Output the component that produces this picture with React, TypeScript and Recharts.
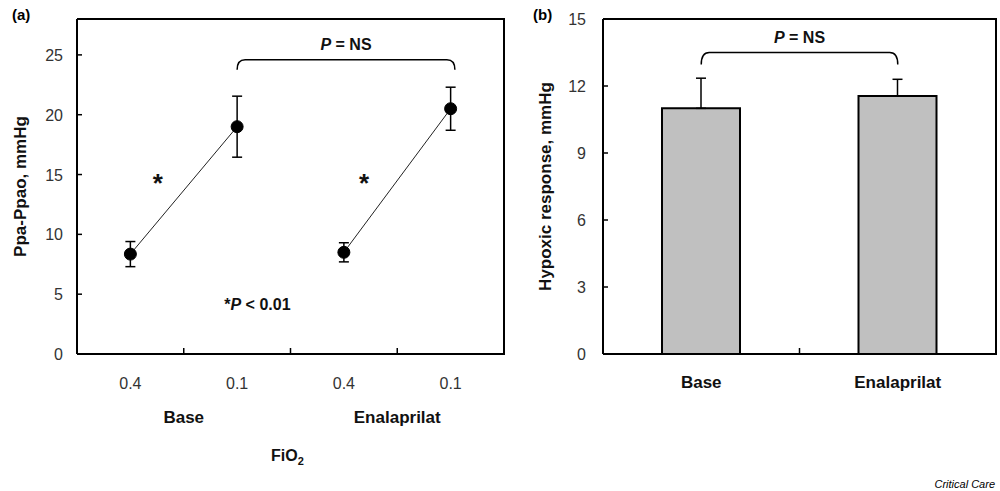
import { LineChart, Line, BarChart, Bar, XAxis, YAxis, ErrorBar, ReferenceLine, ReferenceDot } from 'recharts'

const FONT = '"Liberation Sans", Arial, sans-serif'

// panel (a): Ppa-Ppao by FiO2
const fio2Labels = ['0.4', '0.1', '0.4', '0.1']
const groupLabels = ['Base', 'Enalaprilat']
const baseMean = [8.35, 19.0, null, null]
const baseSd = [1.05, 2.55, null, null]
const enalMean = [null, null, 8.5, 20.5]
const enalSd = [null, null, 0.8, 1.8]
const ppaTicks = [0, 5, 10, 15, 20, 25]

// panel (b): hypoxic response
const hypoxicMean = [11.0, 11.55]
const hypoxicSd = [1.35, 0.75]
const hypoxicTicks = [0, 3, 6, 9, 12, 15]

const lineData = fio2Labels.map((_, i) => ({
  pos: i + 1,
  base: baseMean[i],
  baseErr: baseSd[i],
  enal: enalMean[i],
  enalErr: enalSd[i],
}))

const barData = groupLabels.map((g, i) => ({
  pos: i + 1,
  name: g,
  value: hypoxicMean[i],
  err: [0, hypoxicSd[i]],
}))

function YTick({ x, y, payload, gap }: any) {
  return (
    <g>
      <line x1={x} x2={x + 5} y1={y} y2={y} stroke="#000" strokeWidth={1.5} />
      <text x={x - gap} y={y + 6} textAnchor="end" fontSize={16} fill="#333" fontFamily={FONT}>
        {payload.value}
      </text>
    </g>
  )
}

function FioTick({ x, y, payload }: any) {
  const v = payload.value
  if (Number.isInteger(v)) {
    return (
      <text x={x} y={y + 35} textAnchor="middle" fontSize={16} fill="#333" fontFamily={FONT}>
        {fio2Labels[v - 1]}
      </text>
    )
  }
  const g = v === 2.5 ? null : groupLabels[(v - 1.5) / 2]
  return (
    <g>
      <line x1={x} x2={x} y1={y} y2={y - 6} stroke="#000" strokeWidth={1.5} />
      {g && (
        <text x={x} y={y + 69} textAnchor="middle" fontSize={17} fontWeight="bold" fill="#111" fontFamily={FONT}>
          {g}
        </text>
      )}
      {v === 2.5 && (
        <text x={x - 3} y={y + 107} textAnchor="middle" fontSize={16} fontWeight="bold" fill="#111" fontFamily={FONT}>
          FiO<tspan fontSize={11} dy={4}>2</tspan>
        </text>
      )}
    </g>
  )
}

function GroupTick({ x, y, payload }: any) {
  const v = payload.value
  if (Number.isInteger(v)) {
    return (
      <text x={x} y={y + 34} textAnchor="middle" fontSize={17} fontWeight="bold" fill="#111" fontFamily={FONT}>
        {groupLabels[v - 1]}
      </text>
    )
  }
  return <line x1={x} x2={x} y1={y} y2={y - 6} stroke="#000" strokeWidth={1.5} />
}

function Bracket({ x1, y1, x2, drop, textGap }: any) {
  const r = 8
  return (
    <g>
      <path
        d={`M${x1},${y1 + drop} Q${x1},${y1} ${x1 + r},${y1} L${x2 - r},${y1} Q${x2},${y1} ${x2},${y1 + drop}`}
        fill="none"
        stroke="#000"
        strokeWidth={1.5}
      />
      <text x={(x1 + x2) / 2} y={y1 - textGap} textAnchor="middle" fontSize={16} fontWeight="bold" fill="#111" fontFamily={FONT}>
        <tspan fontStyle="italic">P</tspan> = NS
      </text>
    </g>
  )
}

function axisTitle(text: string, dx: number) {
  return (p: any) => {
    const vb = p.viewBox || { x: 0, y: 19, width: 80, height: 335 }
    const cx = vb.x + dx
    const cy = vb.y + vb.height / 2
    return (
      <text
        transform={`translate(${cx},${cy}) rotate(-90)`}
        textAnchor="middle"
        dominantBaseline="central"
        fontSize={17}
        fontWeight="bold"
        fill="#111"
        fontFamily={FONT}
      >
        {text}
      </text>
    )
  }
}

const star = (p: any) => (
  <text x={p.cx} y={p.cy + 14} textAnchor="middle" fontSize={26} fontWeight="bold" fill="#111" fontFamily={FONT}>*</text>
)

// top/right edges of each plot box
const frameStyle = (left: number, width: number): React.CSSProperties => ({
  position: 'absolute',
  left,
  top: 18,
  width,
  height: 337,
  boxSizing: 'border-box',
  borderTop: '2px solid #000',
  borderRight: '2px solid #000',
  pointerEvents: 'none',
})

export default function App() {
  return (
    <div style={{ position: 'absolute', left: 0, top: 0, width: 1000, height: 491, background: '#fff', fontFamily: FONT }}>
      <div style={{ position: 'absolute', left: 12, top: 6, fontSize: 15, fontWeight: 'bold' }}>(a)</div>
      <div style={{ position: 'absolute', left: 533, top: 6, fontSize: 15, fontWeight: 'bold' }}>(b)</div>

      <div style={{ position: 'absolute', left: 0, top: 0 }}>
        <LineChart width={520} height={491} data={lineData} margin={{ top: 19, right: 16, bottom: 0, left: 0 }}>
          <XAxis
            dataKey="pos"
            type="number"
            domain={[0.5, 4.5]}
            ticks={[1, 1.5, 2, 2.5, 3, 3.5, 4]}
            interval={0}
            height={137}
            tickSize={0}
            tickMargin={0}
            tickLine={false}
            axisLine={{ stroke: '#000', strokeWidth: 2 }}
            tick={<FioTick />}
          />
          <YAxis
            type="number"
            domain={[0, 28]}
            ticks={ppaTicks}
            interval={0}
            width={77}
            tickSize={0}
            tickMargin={0}
            tickLine={false}
            axisLine={{ stroke: '#000', strokeWidth: 2 }}
            tick={(p: any) => <YTick {...p} gap={14} />}
            label={axisTitle('Ppa-Ppao, mmHg', 20)}
          />
          <ReferenceLine
            segment={[{ x: 2, y: 24.6 }, { x: 4.04, y: 24.6 }]}
            shape={(p: any) => <Bracket {...p} drop={10} textGap={10} />}
          />
          <ReferenceDot x={1.256} y={14.7} r={0} shape={star} />
          <ReferenceDot x={3.19} y={14.7} r={0} shape={star} />
          <ReferenceDot x={2.19} y={4.2} r={0} shape={(p: any) => (
            <text x={p.cx} y={p.cy + 6} textAnchor="middle" fontSize={16} fontWeight="bold" fill="#111" fontFamily={FONT}>
              *<tspan fontStyle="italic">P</tspan> &lt; 0.01
            </text>
          )} />
          <Line
            dataKey="base"
            type="linear"
            stroke="#222"
            strokeWidth={1}
            dot={{ r: 6, fill: '#000', stroke: '#000', strokeWidth: 1 }}
            activeDot={false}
            isAnimationActive={false}
          >
            <ErrorBar dataKey="baseErr" direction="y" width={5} stroke="#000" strokeWidth={1.5} />
          </Line>
          <Line
            dataKey="enal"
            type="linear"
            stroke="#222"
            strokeWidth={1}
            dot={{ r: 6, fill: '#000', stroke: '#000', strokeWidth: 1 }}
            activeDot={false}
            isAnimationActive={false}
          >
            <ErrorBar dataKey="enalErr" direction="y" width={5} stroke="#000" strokeWidth={1.5} />
          </Line>
        </LineChart>
      </div>
      <div style={frameStyle(77, 428)} />

      <div style={{ position: 'absolute', left: 520, top: 0 }}>
        <BarChart width={480} height={491} data={barData} margin={{ top: 19, right: 4, bottom: 0, left: 0 }}>
          <XAxis
            dataKey="pos"
            type="number"
            domain={[0.5, 2.5]}
            ticks={[1, 1.5, 2]}
            interval={0}
            height={137}
            tickSize={0}
            tickMargin={0}
            tickLine={false}
            axisLine={{ stroke: '#000', strokeWidth: 2 }}
            tick={<GroupTick />}
          />
          <YAxis
            type="number"
            domain={[0, 15]}
            ticks={hypoxicTicks}
            interval={0}
            width={83}
            tickSize={0}
            tickMargin={0}
            tickLine={false}
            axisLine={{ stroke: '#000', strokeWidth: 2 }}
            tick={(p: any) => <YTick {...p} gap={17} />}
            label={axisTitle('Hypoxic response, mmHg', 25)}
          />
          <Bar dataKey="value" barSize={78} fill="#c0c0c0" stroke="#000" strokeWidth={2} isAnimationActive={false}>
            <ErrorBar dataKey="err" direction="y" width={5} stroke="#000" strokeWidth={1.5} />
          </Bar>
          <ReferenceLine
            segment={[{ x: 1, y: 13.5 }, { x: 2, y: 13.5 }]}
            shape={(p: any) => <Bracket {...p} drop={12} textGap={9.5} />}
          />
        </BarChart>
      </div>
      <div style={frameStyle(603, 394)} />

      <div style={{ position: 'absolute', right: 5, top: 478, fontSize: 11, fontStyle: 'italic' }}>Critical Care</div>
    </div>
  )
}
